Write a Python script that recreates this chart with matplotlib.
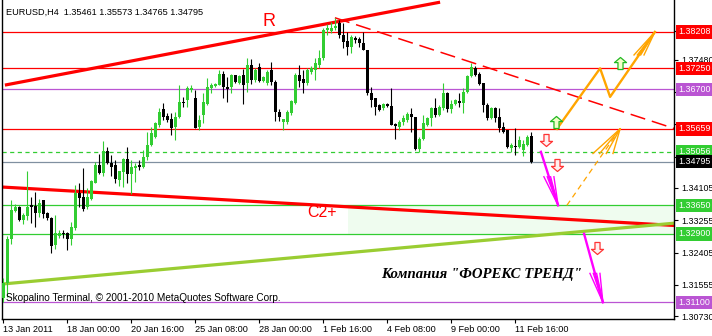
import matplotlib
matplotlib.use("Agg")
import matplotlib.pyplot as plt
from matplotlib.path import Path
from matplotlib.patches import Rectangle
from matplotlib.transforms import blended_transform_factory
import numpy as np

W, H, DPI = 712, 336, 100
UI_FONT = "Liberation Sans"
FS = 6.4

# ---------------- EURUSD H4 quotes ----------------
bar_open = [
    1.3121, 1.3161, 1.3276, 1.3350, 1.3361, 1.3326, 1.3337, 1.3366, 1.3363, 1.3345,
    1.3379, 1.3345, 1.3332, 1.3261, 1.3284, 1.3292, 1.3292, 1.3276, 1.3305, 1.3397,
    1.3387, 1.3361, 1.3382, 1.3424, 1.3471, 1.3450, 1.3508, 1.3476, 1.3471, 1.3432,
    1.3453, 1.3487, 1.3447, 1.3463, 1.3471, 1.3466, 1.3492, 1.3524, 1.3545, 1.3576,
    1.3618, 1.3600, 1.3592, 1.3571, 1.3597, 1.3637, 1.3642, 1.3668, 1.3647, 1.3571,
    1.3603, 1.3632, 1.3674, 1.3679, 1.3681, 1.3710, 1.3676, 1.3676, 1.3708, 1.3687,
    1.3708, 1.3687, 1.3734, 1.3695, 1.3729, 1.3692, 1.3687, 1.3721, 1.3689, 1.3610,
    1.3584, 1.3584, 1.3608, 1.3634, 1.3708, 1.3697, 1.3687, 1.3716, 1.3721, 1.3734,
    1.3752, 1.3826, 1.3823, 1.3831, 1.3845, 1.3813, 1.3797, 1.3781, 1.3805, 1.3802,
    1.3792, 1.3773, 1.3660, 1.3647, 1.3629, 1.3621, 1.3632, 1.3626, 1.3579, 1.3571,
    1.3584, 1.3589, 1.3605, 1.3597, 1.3513, 1.3539, 1.3576, 1.3595, 1.3621, 1.3603,
    1.3621, 1.3660, 1.3618, 1.3632, 1.3639, 1.3634, 1.3663, 1.3705, 1.3726, 1.3710,
    1.3687, 1.3629, 1.3595, 1.3621, 1.3597, 1.3571, 1.3563, 1.3516, 1.3521, 1.3518,
    1.3510, 1.3524, 1.35461,
]
bar_high = [
    1.3174, 1.3284, 1.3379, 1.3368, 1.3363, 1.3345, 1.3455, 1.3387, 1.3400, 1.3382,
    1.3379, 1.3347, 1.3334, 1.3340, 1.3300, 1.3300, 1.3295, 1.3321, 1.3418, 1.3424,
    1.3463, 1.3411, 1.3432, 1.3479, 1.3500, 1.3534, 1.3518, 1.3497, 1.3484, 1.3447,
    1.3489, 1.3518, 1.3484, 1.3476, 1.3484, 1.3510, 1.3558, 1.3571, 1.3584, 1.3621,
    1.3634, 1.3608, 1.3608, 1.3610, 1.3681, 1.3650, 1.3679, 1.3681, 1.3668, 1.3603,
    1.3660, 1.3700, 1.3687, 1.3687, 1.3721, 1.3718, 1.3703, 1.3710, 1.3708, 1.3708,
    1.3724, 1.3752, 1.3750, 1.3726, 1.3739, 1.3705, 1.3721, 1.3742, 1.3695, 1.3618,
    1.3592, 1.3616, 1.3642, 1.3713, 1.3734, 1.3721, 1.3726, 1.3731, 1.3752, 1.3773,
    1.3831, 1.3842, 1.3847, 1.3858, 1.3852, 1.3845, 1.3821, 1.3813, 1.3810, 1.3808,
    1.3821, 1.3773, 1.3676, 1.3647, 1.3632, 1.3634, 1.3634, 1.3674, 1.3582, 1.3589,
    1.3603, 1.3610, 1.3621, 1.3597, 1.3545, 1.3603, 1.3597, 1.3624, 1.3647, 1.3629,
    1.3687, 1.3663, 1.3642, 1.3645, 1.3660, 1.3674, 1.3708, 1.3739, 1.3731, 1.3716,
    1.3687, 1.3634, 1.3624, 1.3624, 1.3621, 1.3584, 1.3563, 1.3529, 1.3568, 1.3547,
    1.3537, 1.3550, 1.35573,
]
bar_low = [
    1.3111, 1.3124, 1.3263, 1.3347, 1.3324, 1.3316, 1.3326, 1.3318, 1.3308, 1.3334,
    1.3332, 1.3326, 1.3240, 1.3250, 1.3279, 1.3279, 1.3247, 1.3261, 1.3300, 1.3361,
    1.3350, 1.3355, 1.3379, 1.3424, 1.3447, 1.3442, 1.3474, 1.3442, 1.3424, 1.3416,
    1.3413, 1.3424, 1.3395, 1.3426, 1.3458, 1.3463, 1.3484, 1.3521, 1.3542, 1.3571,
    1.3589, 1.3584, 1.3550, 1.3537, 1.3595, 1.3624, 1.3624, 1.3663, 1.3568, 1.3563,
    1.3582, 1.3629, 1.3660, 1.3676, 1.3681, 1.3647, 1.3637, 1.3660, 1.3687, 1.3684,
    1.3632, 1.3663, 1.3684, 1.3689, 1.3689, 1.3689, 1.3681, 1.3681, 1.3587, 1.3587,
    1.3563, 1.3579, 1.3603, 1.3632, 1.3676, 1.3660, 1.3681, 1.3710, 1.3695, 1.3726,
    1.3747, 1.3813, 1.3818, 1.3826, 1.3805, 1.3779, 1.3760, 1.3766, 1.3792, 1.3781,
    1.3773, 1.3655, 1.3624, 1.3603, 1.3613, 1.3616, 1.3624, 1.3576, 1.3539, 1.3563,
    1.3576, 1.3584, 1.3558, 1.3510, 1.3505, 1.3537, 1.3574, 1.3574, 1.3597, 1.3600,
    1.3616, 1.3610, 1.3608, 1.3629, 1.3624, 1.3608, 1.3660, 1.3703, 1.3705, 1.3681,
    1.3610, 1.3589, 1.3592, 1.3584, 1.3558, 1.3555, 1.3516, 1.3505, 1.3497, 1.3516,
    1.3495, 1.3521, 1.34765,
]
bar_close = [
    1.3161, 1.3276, 1.3353, 1.3361, 1.3326, 1.3340, 1.3361, 1.3361, 1.3345, 1.3371,
    1.3342, 1.3332, 1.3258, 1.3292, 1.3292, 1.3290, 1.3276, 1.3308, 1.3397, 1.3384,
    1.3355, 1.3387, 1.3429, 1.3471, 1.3450, 1.3508, 1.3476, 1.3466, 1.3434, 1.3455,
    1.3487, 1.3447, 1.3466, 1.3468, 1.3466, 1.3492, 1.3524, 1.3555, 1.3582, 1.3610,
    1.3597, 1.3589, 1.3568, 1.3597, 1.3637, 1.3634, 1.3674, 1.3674, 1.3568, 1.3589,
    1.3637, 1.3676, 1.3681, 1.3684, 1.3710, 1.3676, 1.3671, 1.3708, 1.3689, 1.3705,
    1.3681, 1.3734, 1.3695, 1.3721, 1.3692, 1.3703, 1.3716, 1.3689, 1.3610, 1.3597,
    1.3592, 1.3610, 1.3639, 1.3708, 1.3692, 1.3687, 1.3721, 1.3726, 1.3739, 1.3752,
    1.3826, 1.3831, 1.3831, 1.3837, 1.3813, 1.3795, 1.3781, 1.3808, 1.3800, 1.3792,
    1.3773, 1.3660, 1.3642, 1.3624, 1.3616, 1.3632, 1.3626, 1.3576, 1.3574, 1.3584,
    1.3595, 1.3605, 1.3597, 1.3513, 1.3539, 1.3582, 1.3595, 1.3621, 1.3603, 1.3624,
    1.3660, 1.3618, 1.3632, 1.3642, 1.3634, 1.3663, 1.3705, 1.3729, 1.3708, 1.3684,
    1.3629, 1.3595, 1.3621, 1.3595, 1.3568, 1.3558, 1.3518, 1.3524, 1.3518, 1.3537,
    1.3526, 1.3545, 1.34795,
]

header_text = "EURUSD,H4  1.35461 1.35573 1.34765 1.34795"
copyright_text = "Skopalino Terminal, \u00a9 2001-2010 MetaQuotes Software Corp."
company_text = "Компания \"ФОРЕКС ТРЕНД\""

time_tick_bars = [0, 16, 32, 48, 64, 80, 96, 112, 128]
time_tick_labels = ["13 Jan 2011", "18 Jan 00:00", "20 Jan 16:00", "25 Jan 08:00",
                    "28 Jan 00:00", "1 Feb 16:00", "4 Feb 08:00", "9 Feb 00:00",
                    "11 Feb 16:00"]
price_ticks = [1.38230, 1.37480, 1.36630, 1.35780, 1.34930,
               1.34105, 1.33255, 1.32405, 1.31555, 1.30730]
# grid prices whose labels sit under the level boxes
covered_ticks = [1.36630, 1.34930]

# horizontal levels
red_levels = [1.38208, 1.37250, 1.35659]
purple_levels = [1.36700, 1.31100]
green_levels = [1.33650, 1.32900]
bid_level = 1.35056
last_level = 1.34795

# trend lines: (bar, price) anchors
resist_line = ([0.4, 109.2], [1.3681, 1.3899])
fall_line = ([82.9, 167.7], [1.3858, 1.3567])
c2_line = ([-0.3, 167.7], [1.3413, 1.3312])
rise_line = ([-0.3, 167.7], [1.3158, 1.3318])
zone_bars = (86.2, 167.7)

# scenario arrows
orange_path = ([138.4, 149.2, 151.7, 162.9], [1.35659, 1.37250, 1.3650, 1.38208])
orange_alt = ([140.9, 154.2], [1.33650, 1.35659])
magenta_1 = ([134.4, 138.7], [1.35056, 1.33650])
magenta_2 = ([145.2, 149.9], [1.32900, 1.31100])
up_signals = ([138.2, 154.2], [1.3584, 1.3739])
down_signals = ([135.7, 138.4, 148.4], [1.3537, 1.3471, 1.3253])

GREEN = "#32cd32"
RED = "#ff0000"
PURPLE = "#ba55d3"
ORANGE = "#ffa500"
MAGENTA = "#ff00ff"
YGREEN = "#9acd32"

plt.rcParams["lines.scale_dashes"] = False
fig = plt.figure(figsize=(W / DPI, H / DPI), dpi=DPI)
fig.patch.set_facecolor("white")
ax = fig.add_axes([2 / W, 17 / H, 672 / W, 319 / H])
ax.set_xlim(-0.325, 167.675)
ax.set_ylim(1.30661, 1.39047)
ax.set_facecolor("white")

# size of one screen pixel in data units (used for arrow heads)
PX_X = 168.0 / 672.0
PX_Y = (1.39047 - 1.30661) / 319.0

# zone rectangle
ax.add_patch(Rectangle((zone_bars[0], green_levels[1]), zone_bars[1] - zone_bars[0],
                       green_levels[0] - green_levels[1], facecolor="#effcef",
                       edgecolor="none", zorder=0))

for p in red_levels:
    ax.axhline(p, color=RED, lw=0.9, zorder=1)
for p in purple_levels:
    ax.axhline(p, color=PURPLE, lw=0.9, zorder=1)
for p in green_levels:
    ax.axhline(p, color=GREEN, lw=0.9, zorder=1)
ax.axhline(bid_level, color=GREEN, lw=0.9, ls=(0, (3, 2.5)), zorder=1)
ax.axhline(last_level, color="#8090a0", lw=0.9, zorder=1)

# trend lines
ax.plot(*resist_line, color=RED, lw=2.3, solid_capstyle="butt", zorder=2)
ax.plot(*fall_line, color=RED, lw=1.1, ls=(0, (11, 5)), zorder=2)
ax.plot(*c2_line, color=RED, lw=2.3, solid_capstyle="butt", zorder=2)
ax.plot(*rise_line, color=YGREEN, lw=2.3, solid_capstyle="butt", zorder=2)

# candles
o = np.array(bar_open); hi = np.array(bar_high)
lo = np.array(bar_low); c = np.array(bar_close)
idx = np.arange(len(o))
bull = c >= o
ax.vlines(idx[bull], lo[bull], hi[bull], color=GREEN, lw=0.8, zorder=3)
ax.vlines(idx[~bull], lo[~bull], hi[~bull], color="black", lw=0.8, zorder=3)
body_bot = np.minimum(o, c)
body_h = np.maximum(np.abs(c - o), PX_Y)
ax.bar(idx[bull], body_h[bull], bottom=body_bot[bull], width=0.75, color=GREEN,
       linewidth=0, zorder=4)
ax.bar(idx[~bull], body_h[~bull], bottom=body_bot[~bull], width=0.75, color="black",
       linewidth=0, zorder=4)


def fan_head(xs, ys, color, back_px=28, spread_px=5, n=4, lw=1.0):
    tx, ty = xs[-1], ys[-1]
    sx, sy = xs[-2], ys[-2]
    dx = (tx - sx) / PX_X
    dy = (ty - sy) / PX_Y
    L = np.hypot(dx, dy)
    ux, uy = dx / L, dy / L
    for s in np.linspace(-spread_px, spread_px, n):
        bx = tx - (back_px * ux - s) * PX_X
        by = ty - back_px * uy * PX_Y
        ax.plot([bx, tx], [by, ty], color=color, lw=lw, zorder=6)


ax.plot(*orange_path, color=ORANGE, lw=1.7, zorder=6)
fan_head(orange_path[0][-2:], orange_path[1][-2:], ORANGE, back_px=28, spread_px=5)
ax.plot(*orange_alt, color=ORANGE, lw=0.9, ls=(0, (4, 3)), zorder=6)
fan_head(*orange_alt, ORANGE, back_px=30, spread_px=10)
ax.plot(*magenta_1, color=MAGENTA, lw=1.7, zorder=6)
fan_head(*magenta_1, MAGENTA, back_px=30, spread_px=5)
ax.plot(*magenta_2, color=MAGENTA, lw=1.7, zorder=6)
fan_head(*magenta_2, MAGENTA, back_px=30, spread_px=5)

# hollow signal arrows
up_arrow = Path([(0, 1), (1, 0.15), (0.42, 0.15), (0.42, -1), (-0.42, -1),
                 (-0.42, 0.15), (-1, 0.15), (0, 1)], closed=True)
down_arrow = Path([(0, -1), (1, -0.15), (0.42, -0.15), (0.42, 1), (-0.42, 1),
                   (-0.42, -0.15), (-1, -0.15), (0, -1)], closed=True)
ax.scatter(*up_signals, marker=up_arrow, s=75, facecolor="#f4ffc8",
           edgecolor="#22b822", linewidth=0.9, zorder=7)
ax.scatter(*down_signals, marker=down_arrow, s=75, facecolor="#fff0f0",
           edgecolor="#ff3333", linewidth=0.9, zorder=7)

# labels on the chart
ax.text(66.3, 1.3847, "R", color=RED, fontsize=13, family=UI_FONT,
        ha="center", va="center", zorder=8)
ax.text(79.7, 1.3345, "C2+", color=RED, fontsize=11.5, family=UI_FONT,
        ha="center", va="center", zorder=8)
ax.text(119.5, 1.3182, company_text, color="black", fontsize=10.6,
        family="Liberation Serif", fontweight="bold", fontstyle="italic",
        ha="center", va="center", zorder=8)
ax.text(0.8, 1.3120, copyright_text, color="black", fontsize=7.2, family=UI_FONT,
        ha="left", va="center", zorder=8)
fig.text(6 / W, 1 - 12 / H, header_text, color="black", fontsize=6.6,
         family=UI_FONT, ha="left", va="center")

# axes frame
for side in ("left", "bottom", "right"):
    ax.spines[side].set_color("black")
    ax.spines[side].set_linewidth(1.0)
ax.spines["top"].set_visible(False)

ax.yaxis.tick_right()
ax.set_yticks(price_ticks)
ax.set_yticklabels(["" if p in covered_ticks else f"{p:.5f}" for p in price_ticks],
                   family=UI_FONT, fontsize=FS)
ax.tick_params(axis="y", length=3, width=0.8, pad=2, colors="black")

ax.set_xticks(time_tick_bars)
ax.set_xticklabels(time_tick_labels, family=UI_FONT, fontsize=6.6, ha="left")
ax.tick_params(axis="x", length=3, width=0.8, pad=1, colors="black")

# price boxes on the scale
trans = blended_transform_factory(ax.transAxes, ax.transData)
boxes = [(1.38208, RED), (1.37250, RED), (1.36700, PURPLE), (1.35659, RED),
         (1.35056, GREEN), (1.34795, "black"), (1.33650, GREEN), (1.32900, GREEN),
         (1.31100, PURPLE)]
for p, col in boxes:
    ax.text(1.0 + 4 / 672, p, f"{p:.5f}", transform=trans, ha="left", va="center",
            color="white", fontsize=FS, family=UI_FONT, clip_on=False, zorder=20,
            bbox=dict(boxstyle="square,pad=0.25", fc=col, ec=col, lw=0))

fig.savefig("out.png", dpi=DPI, facecolor="white")
